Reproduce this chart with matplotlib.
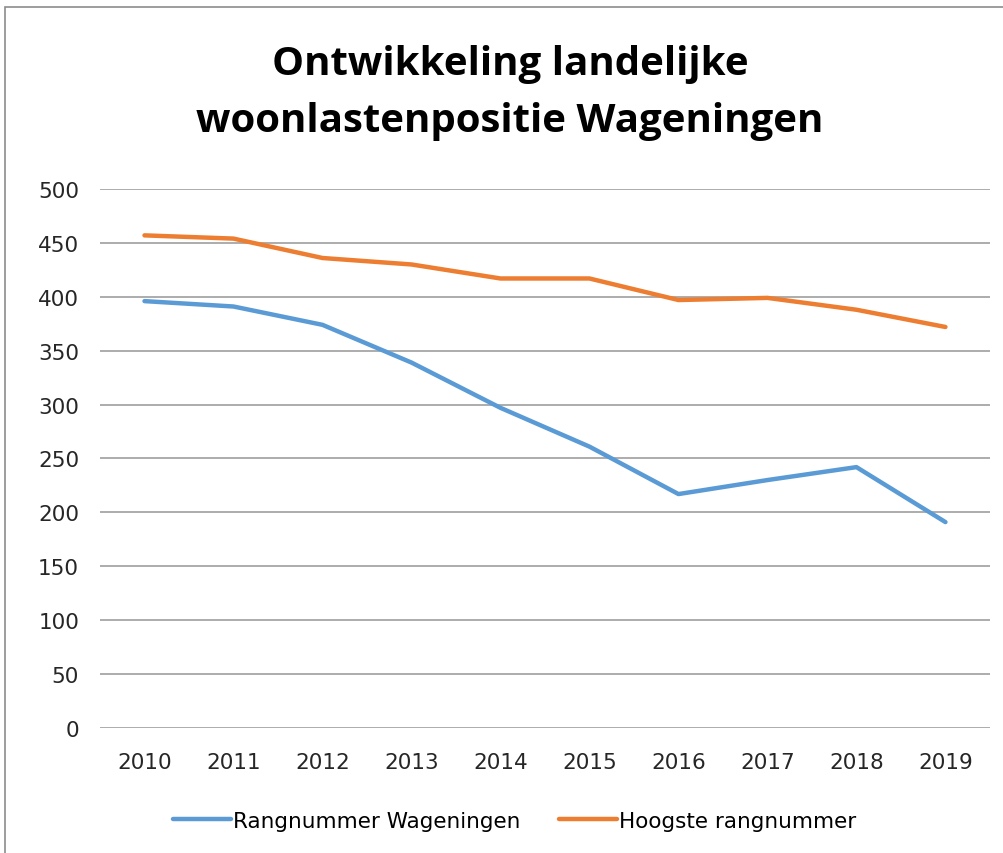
import matplotlib
matplotlib.use("Agg")
import matplotlib.pyplot as plt
from matplotlib.patches import Rectangle

jaren = ["2010", "2011", "2012", "2013", "2014", "2015", "2016", "2017", "2018", "2019"]
rang_wageningen = [396, 391, 374, 339, 297, 261, 217, 230, 242, 191]
hoogste_rang = [457, 454, 436, 430, 417, 417, 397, 399, 388, 372]

blauw = "#5B9BD5"
oranje = "#ED7D31"

plt.rcParams["font.family"] = ["DejaVu Sans"]

fig = plt.figure(figsize=(10.04, 8.54), dpi=100)
ax = fig.add_axes([0.0996, 0.1464, 0.8864, 0.6311])

x = list(range(len(jaren)))
ax.plot(x, rang_wageningen, color=blauw, lw=3.2, solid_capstyle="round",
        label="Rangnummer Wageningen", zorder=3)
ax.plot(x, hoogste_rang, color=oranje, lw=3.2, solid_capstyle="round",
        label="Hoogste rangnummer", zorder=3)

ax.set_xlim(-0.5, len(jaren) - 0.5)
ax.set_ylim(0, 500)
ax.set_yticks(range(0, 501, 50))
ax.set_xticks(x)
ax.set_xticklabels(jaren)
ax.yaxis.grid(True, color="#a6a6a6", lw=1.3)
ax.set_axisbelow(True)
for s in ax.spines.values():
    s.set_visible(False)
ax.tick_params(axis="both", length=0, labelsize=15.5, colors="#262626")
ax.tick_params(axis="y", pad=15)
ax.tick_params(axis="x", pad=17)

titel_font = dict(family=["Open Sans", "DejaVu Sans"], fontsize=29, fontweight="bold")
fig.text(0.508, 0.925, "Ontwikkeling landelijke", ha="center", va="center", **titel_font)
fig.text(0.508, 0.858, "woonlastenpositie Wageningen", ha="center", va="center", **titel_font)

ax.legend(loc="center", bbox_to_anchor=(0.466, -0.1725), ncol=2, frameon=False,
          fontsize=15.5, handlelength=2.7, handletextpad=0.1, columnspacing=1.8)

# chart frame
fig.patches.append(Rectangle((5 / 1004, -0.02), 1.1, 1 - 8 / 854 + 0.02,
                             transform=fig.transFigure, fill=False,
                             edgecolor="#8c8c8c", lw=1.2))

fig.savefig("out.png", dpi=100)
